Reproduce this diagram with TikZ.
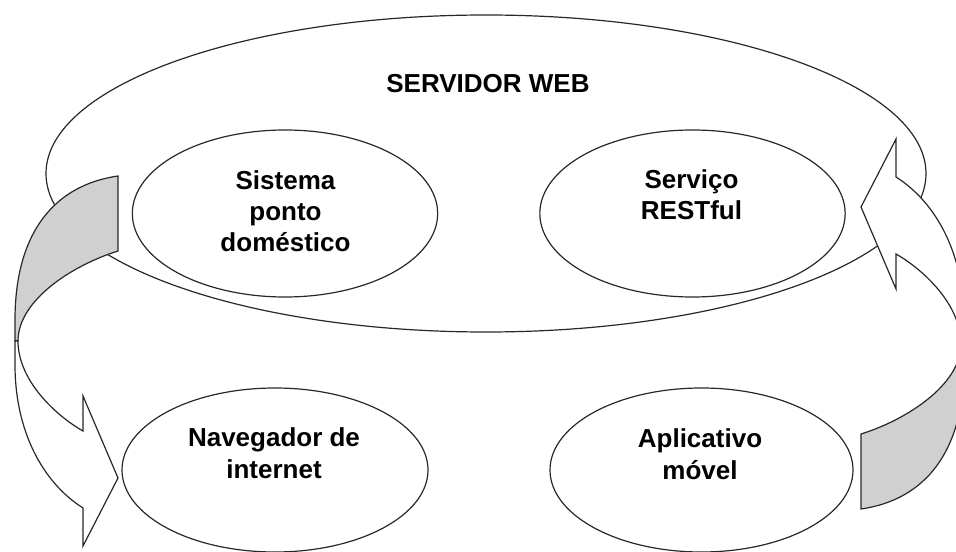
\documentclass[tikz,border=0pt]{standalone}
\usepackage{fontspec}
\setmainfont{Liberation Sans}
\usetikzlibrary{shapes.geometric}
\definecolor{bandgray}{RGB}{208,208,208}
\definecolor{inkline}{RGB}{40,40,40}
\newcommand\curvarr{%
  \filldraw[band, fill=bandgray] (118,176) -- (118,251)
    .. controls (73,265) and (18,300) .. (18,341)
    -- (15,341) -- (15,320)
    .. controls (15,232) and (55,185) .. (118,176) -- cycle;
  \filldraw[band, fill=white] (15,341) -- (15,365)
    .. controls (15,430) and (42,482) .. (83,508)
    -- (83,546) -- (118,478) -- (83,396) -- (83,431)
    .. controls (55,415) and (18,380) .. (18,341) -- cycle;
}
\begin{document}
\begin{tikzpicture}[x=0.75pt,y=-0.75pt,
  oval/.style={ellipse, draw=inkline, line width=0.9pt, inner sep=0pt, outer sep=0pt},
  lbl/.style={font=\fontsize{19.5}{23.6}\selectfont\bfseries, align=center, anchor=base, inner sep=0pt},
  band/.style={draw=inkline, line width=0.9pt, line join=miter},
]
\useasboundingbox (0,0) rectangle (956,552);
\clip (0,0) rectangle (956,552);
% ellipses
\node[oval, minimum width=660pt, minimum height=237.75pt] (web) at (486,173.5) {};
\node[oval, minimum width=229pt, minimum height=125.25pt] (sis) at (285,213.5) {};
\node[oval, minimum width=229pt, minimum height=125.25pt] (rest) at (692.5,213.5) {};
\node[oval, minimum width=229.5pt, minimum height=123pt] (nav) at (275,470) {};
\node[oval, minimum width=227.25pt, minimum height=123pt] (app) at (701.5,470) {};
% labels (anchor = baseline of the last line)
\node[lbl] (tweb) at (488,93) {SERVIDOR WEB};
\node[lbl] (tsis) at (285.5,252) {Sistema\\ponto\\doméstico};
\node[lbl] (trest) at (691.5,220) {Serviço\\RESTful};
\node[lbl] (tnav) at (274,478) {Navegador de\\internet};
\node[lbl] (tapp) at (700,479) {Aplicativo\\móvel};
% curved arrows
\curvarr
\begin{scope}[rotate around={180:(489.5,342.5)}]
  \curvarr
\end{scope}
\end{tikzpicture}
\end{document}
